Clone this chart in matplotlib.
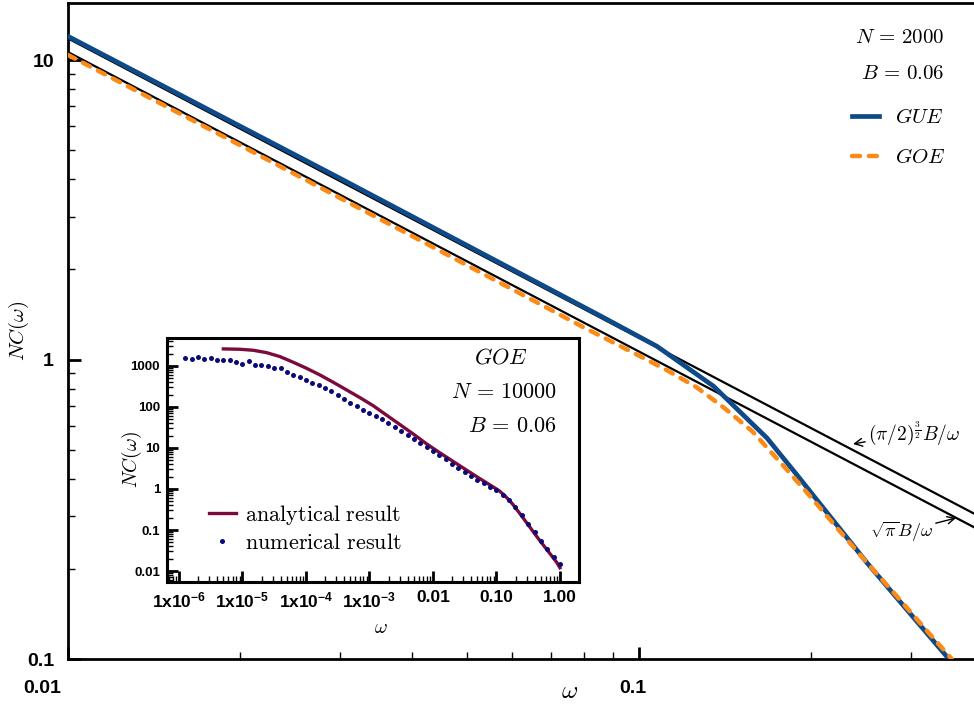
import numpy as np
import matplotlib
matplotlib.use('Agg')
import matplotlib.pyplot as plt
import matplotlib.transforms as mtransforms
from matplotlib.font_manager import FontProperties
from matplotlib.ticker import LogLocator, NullFormatter

plt.rcParams['font.family'] = ['Liberation Sans', 'DejaVu Sans']
plt.rcParams['mathtext.fontset'] = 'custom'
plt.rcParams['mathtext.rm'] = 'Liberation Sans'
plt.rcParams['mathtext.bf'] = 'Liberation Sans:bold'
plt.rcParams['mathtext.it'] = 'Liberation Sans:italic'

# main panel, N = 2000, B = 0.06
omega_gue = [0.01, 0.03, 0.0855, 0.1075, 0.135, 0.1675, 0.189, 0.251, 0.348]
nc_gue = [12.0, 4.02, 1.40, 1.107, 0.815, 0.547, 0.412, 0.209, 0.1005]

omega_goe = [0.01, 0.02, 0.0398, 0.0631, 0.0794, 0.1, 0.112, 0.126, 0.141,
             0.158, 0.178, 0.200, 0.224, 0.251, 0.282, 0.316, 0.353]
nc_goe = [10.4, 5.20, 2.60, 1.63, 1.29, 1.03, 0.920, 0.809, 0.689,
          0.575, 0.447, 0.347, 0.269, 0.209, 0.163, 0.127, 0.100]

# asymptotes sqrt(pi) B / w  and  (pi/2)^(3/2) B / w
omega_asym = [0.01, 0.39]
nc_sqrtpi = [10.63, 0.2726]
nc_pi2 = [11.81, 0.3028]

# inset, GOE, N = 10000
omega_ana = [5.01e-6, 9.12e-6, 1.48e-5, 2.40e-5, 3.89e-5, 6.31e-5, 1.02e-4,
             1.66e-4, 2.69e-4, 4.37e-4, 7.08e-4, 1.15e-3, 1.86e-3, 3.02e-3,
             4.90e-3, 7.94e-3, 0.0129, 0.0209, 0.0339, 0.0550, 0.0891, 0.112,
             0.141, 0.178, 0.224, 0.282, 0.355, 0.447, 0.562, 0.708, 0.891, 1.0]
nc_ana = [2600, 2550, 2410, 2110, 1690, 1230, 877, 603, 400, 260, 169, 107,
          63.1, 37.2, 21.9, 12.6, 7.59, 4.68, 2.88, 1.78, 1.12, 0.891, 0.646,
          0.437, 0.275, 0.170, 0.105, 0.0646, 0.0407, 0.0257, 0.0162, 0.0120]

omega_num = np.logspace(-5.9, 0, 60)
nc_num = [1540, 1480, 1630, 1510, 1540, 1400, 1430, 1430, 1250, 1120,
          1320, 1080, 1060, 982, 877, 877, 701, 615, 530, 465,
          385, 337, 290, 241, 196, 160, 128, 106, 84.5, 70.1,
          59.2, 50.0, 40.7, 32.4, 26.3, 20.4, 16.6, 13.2, 10.7, 8.32,
          6.76, 5.25, 4.17, 3.31, 2.57, 2.09, 1.70, 1.38, 1.12, 0.933,
          0.724, 0.537, 0.372, 0.229, 0.141, 0.0871, 0.0537, 0.0347, 0.0224, 0.0145]

blue = '#0f4a88'
orange = '#fc8a17'
cm = 'cm'

fig = plt.figure(figsize=(9.74, 7.04), dpi=100)
ax = fig.add_axes([0.0698, 0.0639, 0.9302, 0.9318])
ax.set_xscale('log')
ax.set_yscale('log')

ax.plot(omega_asym, nc_sqrtpi, color='black', lw=1.6, zorder=2)
ax.plot(omega_asym, nc_pi2, color='black', lw=1.6, zorder=2)
ax.plot(omega_gue, nc_gue, color=blue, lw=3.4, label='$GUE$', zorder=3)
ax.plot(omega_goe, nc_goe, color=orange, lw=3.2, ls=(0, (1.8, 2.0)),
        dash_capstyle='round', label='$GOE$', zorder=4)

ax.set_xlim(0.01, 0.386)
ax.set_ylim(0.1, 15.5)
for s in ['left', 'bottom', 'top']:
    ax.spines[s].set_linewidth(2)
ax.spines['right'].set_visible(False)

ax.set_xticks([0.01, 0.1], ['0.01', '0.1'])
ax.set_yticks([0.1, 1, 10], ['0.1', '1', '10'])
ax.xaxis.set_minor_locator(LogLocator(base=10, subs=np.arange(2, 10)))
ax.yaxis.set_minor_locator(LogLocator(base=10, subs=np.arange(2, 10)))
ax.xaxis.set_minor_formatter(NullFormatter())
ax.yaxis.set_minor_formatter(NullFormatter())
ax.tick_params(which='major', direction='in', length=9, width=2,
               labelsize=14, top=False, right=False)
ax.tick_params(which='minor', direction='in', length=5, width=1,
               top=False, right=False)
ax.tick_params(axis='x', which='major', pad=15)
ax.tick_params(axis='y', which='major', pad=10)
for lab in ax.get_xticklabels() + ax.get_yticklabels():
    lab.set_fontweight('bold')
shifts = [-26, -6]
for lab, dx in zip(ax.get_xticklabels(), shifts):
    lab.set_transform(lab.get_transform()
                      + mtransforms.ScaledTranslation(dx / 100, 0, fig.dpi_scale_trans))

ax.set_xlabel(r'$\omega$', fontsize=18, math_fontfamily=cm)
ax.xaxis.set_label_coords(0.554, -0.03)
ax.set_ylabel(r'$NC(\omega)$', fontsize=15, math_fontfamily=cm)
ax.yaxis.set_label_coords(-0.041, 0.5)

ax.text(0.9692, 0.9474, r'$N\,=\,2000$', transform=fig.transFigure, ha='right',
        va='center', fontsize=15, math_fontfamily=cm)
ax.text(0.9692, 0.8963, r'$B\,=\,0.06$', transform=fig.transFigure, ha='right',
        va='center', fontsize=15, math_fontfamily=cm)
ax.legend(loc='upper left', bbox_to_anchor=(0.8747, 0.846),
          bbox_transform=fig.transFigure, frameon=False, borderpad=0,
          borderaxespad=0, handlelength=1.3, handletextpad=0.75,
          labelspacing=1.0, prop=FontProperties(size=15, math_fontfamily=cm))

ax.annotate(r'$(\pi/2)^{\frac{3}{2}}B/\omega$', xy=(853, 260), xycoords='figure pixels',
            xytext=(868, 271), textcoords='figure pixels', va='center',
            fontsize=14, math_fontfamily=cm,
            arrowprops=dict(arrowstyle='->', color='black', lw=1.0,
                            shrinkA=0, shrinkB=0))
ax.annotate(r'$\sqrt{\pi}B/\omega$', xy=(956, 186), xycoords='figure pixels',
            xytext=(933, 172), textcoords='figure pixels', ha='right', va='center',
            fontsize=13, math_fontfamily=cm,
            arrowprops=dict(arrowstyle='->', color='black', lw=1.0,
                            shrinkA=0, shrinkB=0))

# inset
axin = fig.add_axes([0.1715, 0.1733, 0.423, 0.3466])
axin.set_xscale('log')
axin.set_yscale('log')
axin.plot(omega_ana, nc_ana, color='#7b0b3c', lw=2.4,
          label=r'$\mathrm{analytical\ result}$')
axin.plot(omega_num, nc_num, 'o', color='#0a0a78', ms=3.6, mew=0,
          label=r'$\mathrm{numerical\ result}$')
axin.set_xlim(6.5e-7, 2.0)
axin.set_ylim(0.0054, 4800)
for s in axin.spines.values():
    s.set_linewidth(2.2)
axin.set_xticks([1e-6, 1e-5, 1e-4, 1e-3, 0.01, 0.1, 1.0],
                [r'1x10$^{\mathbf{-6}}$', r'1x10$^{\mathbf{-5}}$', r'1x10$^{\mathbf{-4}}$',
                 r'1x10$^{\mathbf{-3}}$', '0.01', '0.10', '1.00'])
axin.set_yticks([0.01, 0.1, 1, 10, 100, 1000],
                ['0.01', '0.1', '1', '10', '100', '1000'])
axin.xaxis.set_minor_locator(LogLocator(base=10, subs=np.arange(2, 10), numticks=20))
axin.yaxis.set_minor_locator(LogLocator(base=10, subs=np.arange(2, 10), numticks=20))
axin.xaxis.set_minor_formatter(NullFormatter())
axin.yaxis.set_minor_formatter(NullFormatter())
axin.tick_params(which='major', direction='in', length=8, width=2,
                 top=False, right=False, pad=6)
axin.tick_params(axis='x', which='major', labelsize=12.5)
axin.tick_params(axis='y', which='major', labelsize=9.5, pad=5)
axin.tick_params(which='minor', direction='in', length=4, width=1,
                 top=False, right=False)
for lab in axin.get_xticklabels() + axin.get_yticklabels():
    lab.set_fontweight('bold')
axin.set_xlabel(r'$\omega$', fontsize=14, math_fontfamily=cm)
axin.xaxis.set_label_coords(0.519, -0.155)
axin.set_ylabel(r'$NC(\omega)$', fontsize=14, math_fontfamily=cm)
axin.yaxis.set_label_coords(-0.055, 0.5)

axin.text(501, 346, r'$GOE$', transform=None, ha='center', va='center',
          fontsize=16, math_fontfamily=cm)
axin.text(557, 311, r'$N\,=\,10000$', transform=None, ha='right', va='center',
          fontsize=16, math_fontfamily=cm)
axin.text(557, 277, r'$B\,=\,0.06$', transform=None, ha='right', va='center',
          fontsize=16, math_fontfamily=cm)
axin.legend(loc='upper left', bbox_to_anchor=(209 / 974, 201 / 704),
            bbox_transform=fig.transFigure, frameon=False, borderpad=0,
            borderaxespad=0, handlelength=1.2, handletextpad=0.4,
            labelspacing=0.25, prop=FontProperties(size=16, math_fontfamily=cm))

fig.savefig('out.png', dpi=100)
